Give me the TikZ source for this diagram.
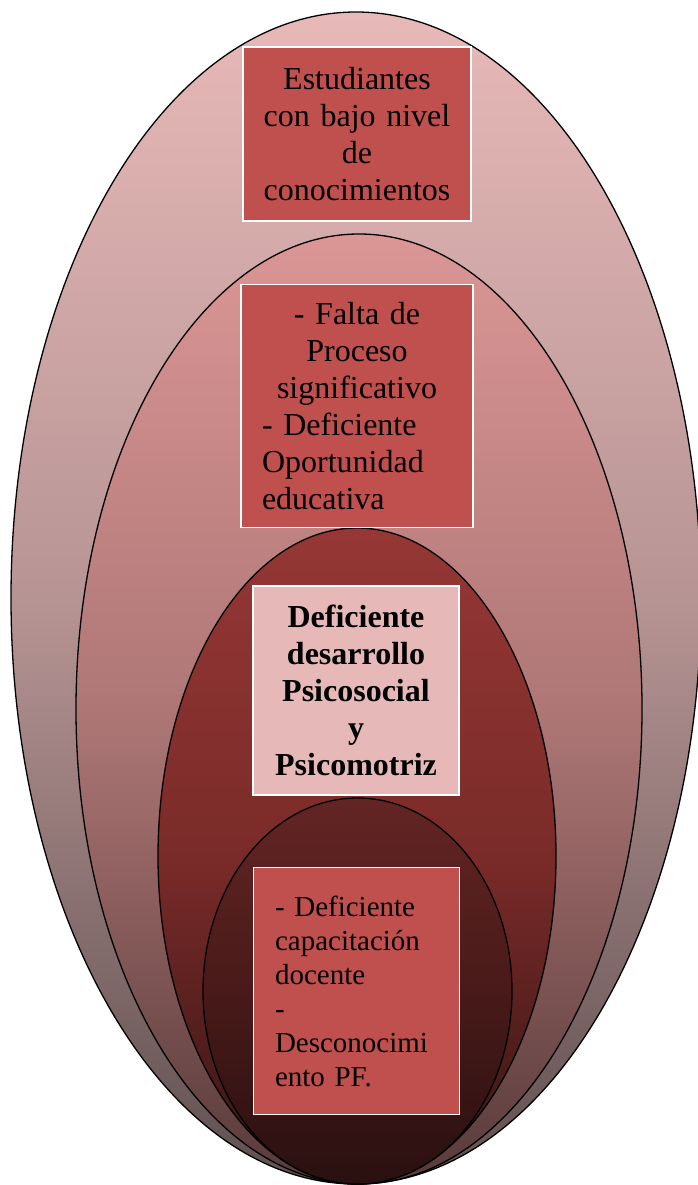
\documentclass[tikz,border=0pt]{standalone}
\usepackage{fontspec}
\setmainfont{Liberation Serif}
\usetikzlibrary{positioning}

\definecolor{boxred}{RGB}{192,80,77}
\definecolor{boxpink}{RGB}{230,184,183}
\definecolor{ringAtop}{RGB}{231,185,184}
\definecolor{ringAmid}{RGB}{183,148,148}
\definecolor{ringAbot}{RGB}{96,80,80}
\definecolor{ringBtop}{RGB}{219,150,149}
\definecolor{ringBmid}{RGB}{174,119,118}
\definecolor{ringBbot}{RGB}{88,58,58}
\definecolor{ringCtop}{RGB}{149,55,53}
\definecolor{ringCmid}{RGB}{122,43,41}
\definecolor{ringCbot}{RGB}{52,20,20}
\definecolor{ringDtop}{RGB}{99,37,35}
\definecolor{ringDmid}{RGB}{72,26,25}
\definecolor{ringDbot}{RGB}{42,16,16}

\begin{document}
\begin{tikzpicture} [x=1pt,y=-1pt,line width=1.3pt,node distance=62pt,
  ring/.style={draw=black},
  box/.style={draw=white,line width=1.5pt,fill=boxred,inner sep=0pt,
    font=\fontsize{32}{37}\selectfont}]
  \useasboundingbox (0,0) rectangle (698,1185);

  % nested ellipses
  \draw[ring,top color=ringAtop,bottom color=ringAbot,middle color=ringAmid]
    (356,598) ellipse [x radius=345, y radius=586];
  \draw[ring,top color=ringBtop,bottom color=ringBbot,middle color=ringBmid]
    (359,709) ellipse [x radius=283, y radius=475];
  \draw[ring,top color=ringCtop,bottom color=ringCbot,middle color=ringCmid]
    (357,856) ellipse [x radius=199, y radius=328];
  \draw[ring,top color=ringDtop,bottom color=ringDbot,middle color=ringDmid]
    (357.5,991) ellipse [x radius=154.5, y radius=193];

  % boxes
  \node[box,text width=210,minimum width=228,minimum height=174,align=center]
    (top) at (357,134) {Estudiantes\\ con bajo nivel\\ de\\ conocimientos};
  \node[box,text width=190,minimum width=232,minimum height=243,align=left]
    (causes) [below=62pt of top]
    {{\centering - Falta de\\ Proceso\\ significativo\par}\raggedright
     - Deficiente\\ Oportunidad\\ educativa};
  \node[box,fill=boxpink,text width=190,minimum width=206,minimum height=209,
    align=center,font=\fontsize{32}{37}\selectfont\bfseries]
    (core) at (356,690.5) {Deficiente\\ desarrollo\\ Psicosocial\\ y\\ Psicomotriz};
  \node[box,text width=163,minimum width=206,minimum height=247,align=left,
    font=\fontsize{29}{34}\selectfont]
    (roots) at (356.5,991) {- Deficiente\\ capacitación\\ docente\\ -\\
     Desconocimi\\ ento PF.\par\vspace{17pt}};
\end{tikzpicture}
\end{document}
